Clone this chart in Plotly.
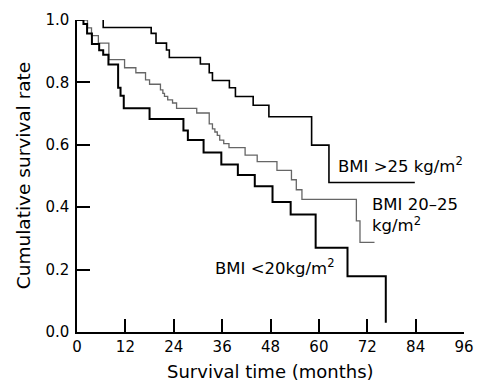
import plotly.graph_objects as go

# BMI < 20 kg/m2
t_lt20 = [0, 1.6, 2.5, 3.7, 5.5, 6.5, 7.8, 10.2, 10.8, 11.6, 18.0, 26.4, 27.5, 31.4,
          35.8, 39.9, 44.1, 48.5, 53.0, 59.2, 67.1, 76.6]
s_lt20 = [1.0, 0.987, 0.957, 0.923, 0.903, 0.889, 0.857, 0.783, 0.757, 0.717, 0.683,
          0.646, 0.615, 0.575, 0.537, 0.503, 0.467, 0.417, 0.377, 0.270, 0.179, 0.03]

# BMI 20-25 kg/m2
t_20_25 = [0, 2.6, 3.6, 5.3, 7.9, 11.8, 14.6, 17.0, 18.0, 20.7, 21.3, 21.7, 22.5, 23.7,
           24.7, 29.7, 32.8, 33.6, 34.2, 34.8, 35.4, 36.4, 37.7, 41.7, 44.7, 49.6,
           53.2, 54.4, 55.8, 69.3, 70.2, 73.8]
s_20_25 = [1.0, 0.975, 0.95, 0.926, 0.873, 0.847, 0.831, 0.808, 0.794, 0.776, 0.765,
           0.755, 0.744, 0.734, 0.717, 0.702, 0.667, 0.651, 0.641, 0.630, 0.615, 0.604,
           0.591, 0.567, 0.546, 0.518, 0.488, 0.456, 0.425, 0.356, 0.287, 0.287]

# BMI > 25 kg/m2
t_gt25 = [6.5, 6.5, 18.4, 19.6, 22.2, 22.9, 30.6, 32.8, 33.6, 37.8, 39.3, 43.7, 47.6,
          58.2, 62.5, 83.8]
s_gt25 = [1.0, 0.976, 0.957, 0.926, 0.904, 0.880, 0.859, 0.831, 0.806, 0.783, 0.755,
          0.727, 0.690, 0.599, 0.479, 0.479]

x_ticks = [0, 12, 24, 36, 48, 60, 72, 84, 96]
y_ticks = [0.0, 0.2, 0.4, 0.6, 0.8, 1.0]

FONT = "DejaVu Sans"

fig = go.Figure()
fig.add_trace(go.Scatter(x=t_20_25, y=s_20_25, mode="lines", line_shape="hv",
                         line=dict(color="#666666", width=1.3), showlegend=False))
fig.add_trace(go.Scatter(x=t_gt25, y=s_gt25, mode="lines", line_shape="hv",
                         line=dict(color="black", width=1.6), showlegend=False))
fig.add_trace(go.Scatter(x=t_lt20, y=s_lt20, mode="lines", line_shape="hv",
                         line=dict(color="black", width=2), showlegend=False))

axis_common = dict(showline=True, linecolor="black", linewidth=1.5, ticks="inside",
                   ticklen=13, tickwidth=1.5, tickcolor="black", showgrid=False,
                   zeroline=False, mirror=False,
                   tickfont=dict(family=FONT, size=15, color="black"))

fig.update_layout(
    width=485, height=384,
    margin=dict(l=77, r=11, t=16, b=52),
    paper_bgcolor="white", plot_bgcolor="white",
    xaxis=dict(range=[0, 96], tickvals=x_ticks, ticklabelstandoff=0, **axis_common),
    yaxis=dict(range=[0, 1.0], tickvals=y_ticks, tickformat=".1f",
               ticklabelstandoff=3, **axis_common),
    annotations=[
        dict(text="Survival time (months)", xref="paper", yref="paper", x=0.5, y=-0.127,
             xanchor="center", yanchor="middle", showarrow=False,
             font=dict(family=FONT, size=18, color="black")),
        dict(text="Cumulative survival rate", xref="paper", yref="paper", x=-0.139, y=0.5,
             xanchor="center", yanchor="middle", textangle=-90, showarrow=False,
             font=dict(family=FONT, size=18.5, color="black")),
        dict(text="BMI >25 kg/m<sup>2</sup>", xref="x", yref="y", x=64.3, y=0.536,
             xanchor="left", yanchor="middle", showarrow=False,
             font=dict(family=FONT, size=16.5, color="black")),
        dict(text="BMI 20–25<br>kg/m<sup>2</sup>", xref="x", yref="y", x=72.6, y=0.375,
             xanchor="left", yanchor="middle", align="left", showarrow=False,
             font=dict(family=FONT, size=16.5, color="black")),
        dict(text="BMI <20kg/m<sup>2</sup>", xref="x", yref="y", x=33.8, y=0.207,
             xanchor="left", yanchor="middle", showarrow=False,
             font=dict(family=FONT, size=16.5, color="black")),
    ],
)

fig.write_html("out.html", config={"displayModeBar": False},
               post_script="document.body.style.margin='0';document.body.style.overflow='hidden';")
